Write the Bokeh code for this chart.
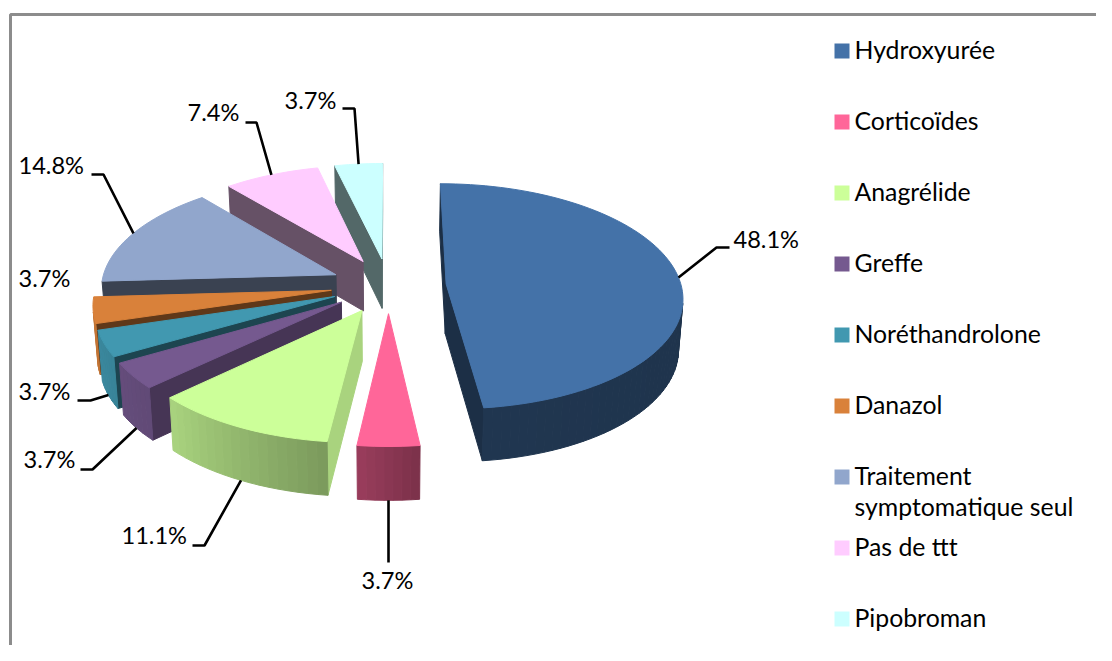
import numpy as np
from bokeh.plotting import figure
from bokeh.models import Range1d, ColumnDataSource
from bokeh.core.properties import value
from bokeh.embed import file_html
from bokeh.resources import INLINE

# ---- data ----
categories = ["Hydroxyurée", "Corticoïdes", "Anagrélide", "Greffe", "Noréthandrolone",
              "Danazol", "Traitement\nsymptomatique seul", "Pas de ttt", "Pipobroman"]
counts = [13, 1, 3, 1, 1, 1, 4, 2, 1]

# ---- style ----
colors = ["#4472A8", "#FF6699", "#CCFF99", "#75598F", "#4198B0",
          "#D9813A", "#91A6CC", "#FFCCFF", "#CCFFFF"]
edge_shade = [.42, .58, .83, .60, .46, .44, .40, .40, .41]
FONT = "Lato"
FS_VAL = "23.6px"
FS_LEG = "24.8px"

# ---- layout: 3D projection ----
CX, CY = 388.0, 285.0
SX, SY = 235.0, 111.5
PERSP = 0.11
EXPLODE = 0.246
THICK = 50.0
BOTTOM_X = 0.985

label_xy = [(733, 238), (361, 579), (121, 534), (23, 458), (18, 390),
            (18, 277), (18, 164), (187, 111), (284, 99)]
elbows = [[(716, 247), (729, 247)], [(388, 562), (388, 562)], [(204, 545), (192, 545)],
          [(92, 469), (80, 469)], [(90, 400), (77, 400)], None,
          [(103, 174), (91, 174)], [(256, 122), (245, 122)], [(354, 108), (342, 108)]]
leader_bottom = [0, 1, 1, 1, 1, 0, 0, 0, 0]
LEG_X, LEG_Y0, LEG_DY, LEG_SIZE, LEG_TX = 841.5, 50.5, 71.0, 15, 854


def project(X, Y, down=0.0):
    f = 1.0 / (1.0 + PERSP * Y)
    x = CX + SX * X * f
    y = CY - SY * Y * f
    if down:
        x = CX + (x - CX) * BOTTOM_X
        y = y + THICK * np.sqrt(f) * down
    return x, y


def shade_color(hexcol, s):
    r, g, b = [int(hexcol[i:i + 2], 16) for i in (1, 3, 5)]
    return "#%02x%02x%02x" % (int(r * s), int(g * s), int(b * s))


def arc_shade(deg):
    return float(np.interp(deg, [0, 173, 186, 226, 253, 360], [.42, .48, .60, .83, .90, .90]))


def shoelace(px, py):
    return sum(px[i] * py[(i + 1) % len(px)] - px[(i + 1) % len(px)] * py[i] for i in range(len(px)))


total = sum(counts)
shares = [c / total for c in counts]
edges = np.concatenate([[0.0], np.cumsum(shares) * 360.0])

xs, ys, fills = [], [], []
leaders = []


def add_poly(px, py, col):
    xs.append(list(map(float, px)))
    ys.append(list(map(float, py)))
    fills.append(col)


# back-to-front: last slices sit at the back of the pie
for i in reversed(range(len(colors))):
    col = colors[i]
    a0, a1 = edges[i], edges[i + 1]
    mid = np.radians((a0 + a1) / 2)
    ox, oy = EXPLODE * np.sin(mid), EXPLODE * np.cos(mid)
    th = np.radians(np.linspace(a0, a1, max(8, int((a1 - a0) / 2))))
    ax, ay = ox + np.sin(th), oy + np.cos(th)

    tx, ty = project(ax, ay)
    bx, by = project(ax, ay, 1.0)
    atx, aty = project(ox, oy)
    abx, aby = project(ox, oy, 1.0)

    # radial faces
    for P, Q, s in [((atx, aty, abx, aby), (tx[0], ty[0], bx[0], by[0]), edge_shade[i]),
                    ((tx[-1], ty[-1], bx[-1], by[-1]), (atx, aty, abx, aby), .42)]:
        qx = [P[0], Q[0], Q[2], P[2]]
        qy = [P[1], Q[1], Q[3], P[3]]
        if shoelace(qx, qy) < 0:
            add_poly(qx, qy, shade_color(col, s))
    # outer wall
    for k in range(len(th) - 1):
        qx = [tx[k], tx[k + 1], bx[k + 1], bx[k]]
        qy = [ty[k], ty[k + 1], by[k + 1], by[k]]
        if shoelace(qx, qy) < 0:
            add_poly(qx, qy, shade_color(col, arc_shade(np.degrees((th[k] + th[k + 1]) / 2))))
    # top
    add_poly(np.r_[atx, tx], np.r_[aty, ty], col)

    # leader
    if elbows[i] is not None:
        sx, sy = project((1 + EXPLODE) * np.sin(mid), (1 + EXPLODE) * np.cos(mid), float(leader_bottom[i]))
        leaders.append(([float(sx), elbows[i][0][0], elbows[i][1][0]],
                        [float(sy), elbows[i][0][1], elbows[i][1][1]]))

p = figure(width=1096, height=645, x_range=Range1d(0, 1096), y_range=Range1d(645, 0),
           output_backend="svg", toolbar_location=None, min_border=0,
           background_fill_color="white", border_fill_color="white", outline_line_color=None)
p.axis.visible = False
p.grid.visible = False

# frame
p.line([10, 10, 1112], [661, 14, 14], line_color="#8C8C8C", line_width=3)

src = ColumnDataSource(dict(xs=xs, ys=ys, fill=fills))
p.patches("xs", "ys", source=src, fill_color="fill", line_color="fill", line_width=1.0)

p.multi_line([l[0] for l in leaders], [l[1] for l in leaders], line_color="black", line_width=2.6)

# value labels
labels = ["%.1f%%" % (s * 100) for s in shares]
p.text([q[0] for q in label_xy], [q[1] for q in label_xy], text=labels, text_font=value(FONT),
       text_font_size=FS_VAL, text_color="black", text_align="left", text_baseline="middle")

# legend
row_y = [LEG_Y0 + LEG_DY * k for k in range(len(categories))]
p.scatter([LEG_X] * len(row_y), row_y, marker="square", size=LEG_SIZE, fill_color=colors, line_color=None)
for name, y in zip(categories, row_y):
    for j, line in enumerate(name.split("\n")):
        p.text([LEG_TX], [y - 2 + 31 * j], text=[line], text_font=value(FONT), text_font_size=FS_LEG,
               text_color="black", text_align="left", text_baseline="middle")

open("out.html", "w").write(file_html(p, INLINE))
